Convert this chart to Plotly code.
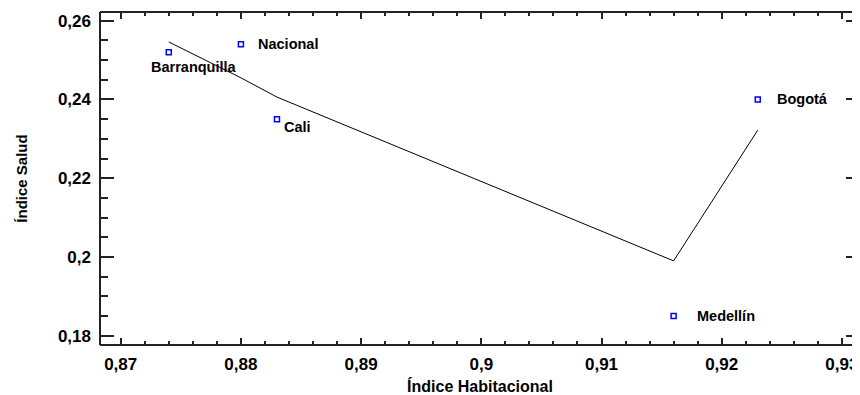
import plotly.graph_objects as go

# ---- data ----
cities = ["Barranquilla", "Nacional", "Cali", "Medellín", "Bogotá"]
indice_habitacional = [0.874, 0.880, 0.883, 0.916, 0.923]
indice_salud = [0.252, 0.254, 0.235, 0.185, 0.240]

fit_x = [0.874, 0.880, 0.883, 0.916, 0.923]
fit_y = [0.2546, 0.2455, 0.2406, 0.1990, 0.2322]

x_tickvals = [0.87, 0.88, 0.89, 0.90, 0.91, 0.92, 0.93]
x_ticktext = ["0,87", "0,88", "0,89", "0,9", "0,91", "0,92", "0,93"]
y_tickvals = [0.18, 0.20, 0.22, 0.24, 0.26]
y_ticktext = ["0,18", "0,2", "0,22", "0,24", "0,26"]

# label offsets (pixels) relative to each marker: (xanchor, xshift, yshift)
label_style = {
    "Barranquilla": ("center", 25, -15),
    "Nacional": ("left", 15, 0),
    "Cali": ("left", 5, -8),
    "Medellín": ("left", 21, 0),
    "Bogotá": ("left", 17, 0),
}

FONT = "Liberation Sans, Arial, sans-serif"
AX = "#222222"

fig = go.Figure()
fig.add_trace(go.Scatter(x=fit_x, y=fit_y, mode="lines",
                         line=dict(color="black", width=1), hoverinfo="skip",
                         showlegend=False))
fig.add_trace(go.Scatter(x=indice_habitacional, y=indice_salud, mode="markers",
                         marker=dict(symbol="square-open", size=5, color="#0000ff",
                                     line=dict(width=1.5, color="#0000ff")),
                         text=cities, showlegend=False))

for c, xv, yv in zip(cities, indice_habitacional, indice_salud):
    anc, xs, ys = label_style[c]
    fig.add_annotation(x=xv, y=yv, text="<b>%s</b>" % c, showarrow=False,
                       xanchor=anc, yanchor="middle", xshift=xs, yshift=ys,
                       font=dict(family=FONT, size=14.5, color="black"))

# frame (left, top, bottom) as shapes
for x0, y0, x1, y1 in [(0, 0, 0, 1), (0, 1, 1, 1), (0, 0, 1, 0)]:
    fig.add_shape(type="line", xref="paper", yref="paper", x0=x0, y0=y0, x1=x1, y1=y1,
                  line=dict(color=AX, width=2))

# page body has an 8px margin: figure is sized/offset to compensate
fig.update_layout(
    width=852, height=387,
    margin=dict(l=92, r=0, t=4, b=50),
    plot_bgcolor="white", paper_bgcolor="white",
    font=dict(family=FONT, color="black"),
    xaxis=dict(
        range=[0.868278, 0.931506], showgrid=False, zeroline=False, showline=False,
        mirror="ticks", ticks="inside", ticklen=7, tickwidth=1.5, tickcolor=AX,
        tickmode="array", tickvals=x_tickvals, ticktext=x_ticktext,
        tickfont=dict(family=FONT, size=17, color="black", weight="bold"),
        ticklabelstandoff=7,
        minor=dict(tick0=0.87, dtick=0.002, ticks="inside", ticklen=4,
                   tickwidth=1.5, tickcolor=AX, showgrid=False),
        title=dict(text="<b>Índice Habitacional</b>", standoff=12,
                   font=dict(family=FONT, size=16, color="black")),
        automargin=False,
    ),
    yaxis=dict(
        range=[0.17764, 0.26221], showgrid=False, zeroline=False, showline=False,
        mirror="ticks", ticks="inside", ticklen=14, tickwidth=1.5, tickcolor=AX,
        tickmode="array", tickvals=y_tickvals, ticktext=y_ticktext,
        tickfont=dict(family=FONT, size=17, color="black", weight="bold"),
        ticklabelstandoff=8,
        minor=dict(tick0=0.18, dtick=0.005, ticks="inside", ticklen=8,
                   tickwidth=1.5, tickcolor=AX, showgrid=False),
        title=dict(text="<b>Índice Salud</b>", standoff=26,
                   font=dict(family=FONT, size=15, color="black")),
        automargin=False,
    ),
)

fig.write_html("out.html")
